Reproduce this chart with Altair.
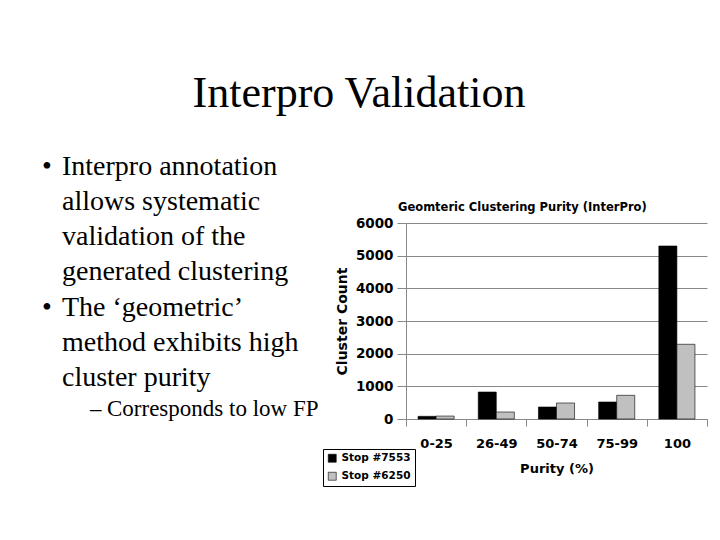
import altair as alt
import pandas as pd

categories = ["0-25", "26-49", "50-74", "75-99", "100"]
series_names = ["Stop #7553", "Stop #6250"]
stop_7553 = [82, 826, 367, 520, 5296]
stop_6250 = [90, 214, 490, 725, 2287]

slide_title = "Interpro Validation"
bullet1 = "Interpro annotation\nallows systematic\nvalidation of the\ngenerated clustering"
bullet2 = "The \u2018geometric\u2019\nmethod exhibits high\ncluster purity"
sub_bullet = "Corresponds to low FP"
chart_title = "Geomteric Clustering Purity (InterPro)"
y_ticks = [0, 1000, 2000, 3000, 4000, 5000, 6000]

rows = []
for i, c in enumerate(categories):
    rows.append({"cat": c, "series": series_names[0], "value": stop_7553[i]})
    rows.append({"cat": c, "series": series_names[1], "value": stop_6250[i]})
df = pd.DataFrame(rows)

CF = "DejaVu Sans"
SF = "Liberation Serif"

bars = alt.Chart(df).mark_bar(stroke="black", strokeWidth=0.6).encode(
    x=alt.X("cat:N", sort=categories, title="Purity (%)",
            scale=alt.Scale(paddingInner=0, paddingOuter=0),
            axis=alt.Axis(labelAngle=0, tickBand="extent", domainColor="#888888",
                          tickColor="#888888", tickSize=7, labelFont=CF,
                          labelFontWeight="bold", labelFontSize=13, labelColor="black",
                          labelPadding=11, titleFont=CF, titleFontWeight="bold",
                          titleFontSize=13, titleColor="black", titlePadding=12)),
    xOffset=alt.XOffset("series:N", sort=series_names,
                        scale=alt.Scale(paddingOuter=0.667, paddingInner=0)),
    y=alt.Y("value:Q", title="Cluster Count",
            scale=alt.Scale(domain=[0, 6000], nice=False),
            axis=alt.Axis(values=y_ticks, format="d", grid=True, gridColor="#888888",
                          domainColor="#888888", tickColor="#888888", tickSize=9,
                          labelFont=CF, labelFontWeight="bold", labelFontSize=13.5,
                          labelColor="black", labelPadding=4, titleFont=CF,
                          titleFontWeight="bold", titleFontSize=14, titleColor="black",
                          titlePadding=6)),
    color=alt.Color("series:N", sort=series_names, title=None,
                    scale=alt.Scale(domain=series_names, range=["#000000", "#c0c0c0"]),
                    legend=alt.Legend(orient="none", legendX=-83, legendY=226,
                                      strokeColor="black", padding=4, symbolType="square",
                                      symbolSize=64, symbolStrokeColor="black",
                                      symbolStrokeWidth=0.6, labelFont=CF,
                                      labelFontWeight="bold", labelFontSize=10.5,
                                      labelColor="black", rowPadding=7, fillColor="white")),
)


def txt(s, x, y, size, font, align="left", weight="normal", line_height=None):
    kw = dict(align=align, baseline="alphabetic", font=font, fontSize=size,
              fontWeight=weight, color="black", lineBreak="\n")
    if line_height is not None:
        kw["lineHeight"] = line_height
    return alt.Chart(pd.DataFrame({"t": [s]})).mark_text(**kw).encode(
        text="t:N", x=alt.value(x), y=alt.value(y))


# plot area origin is at page (406, 223)
texts = [
    txt(slide_title, -47, -116, 44, SF, align="center"),
    txt("\u2022", -364, -48, 28, SF),
    txt(bullet1, -344, -48, 28, SF, line_height=35),
    txt("\u2022", -364, 93, 28, SF),
    txt(bullet2, -344, 93, 28, SF, line_height=35),
    txt("\u2013", -316, 193, 23, SF),
    txt(sub_bullet, -299, 193, 23, SF),
    txt(chart_title, -8, -12, 11.5, CF, weight="bold"),
]

chart = alt.layer(bars, *texts).properties(
    width=301, height=196,
    autosize=alt.AutoSizeParams(type="none"),
    padding={"left": 398, "top": 215, "right": 5, "bottom": 113},
    background="white",
).configure_view(stroke=None)

chart.save("out.html", embed_options={"renderer": "svg", "actions": False})
